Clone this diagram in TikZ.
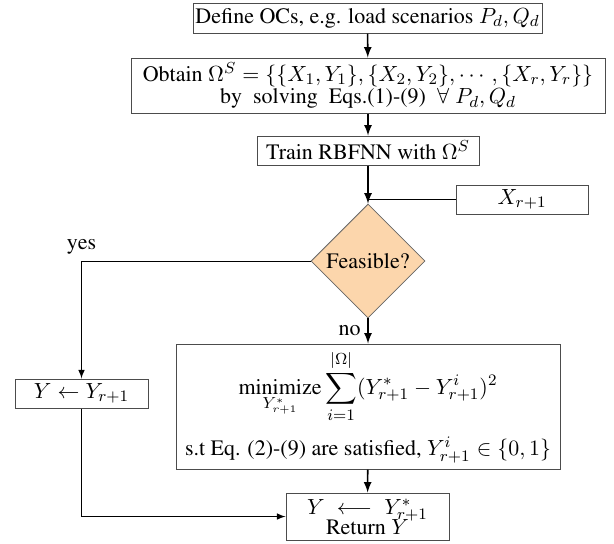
\documentclass[tikz,border=0pt]{standalone}
\usepackage[T1]{fontenc}
\usepackage{times}
\usepackage{amsmath}
\usepackage{amssymb}
\usepackage{tikz}
\usetikzlibrary{shapes,arrows}

\definecolor{feasfill}{RGB}{252,214,172}

\begin{document}
\begin{tikzpicture}
    [x=0.5pt,y=-0.5pt,>=latex,
      every node/.style={font=\fontsize{11}{13}\selectfont},
      box/.style={rectangle,draw=black!70,line width=0.5pt,inner sep=1pt,align=center},
      test/.style={diamond,draw=black!60,fill=feasfill,inner sep=0pt,aspect=1,minimum size=57pt},
      flow/.style={->,line width=0.8pt},
      side/.style={->,line width=0.5pt}]
    \useasboundingbox (0,0) rectangle (614,543);
    % main column
    \node[box,minimum width=174.5pt,minimum height=15pt] (def) at (367.5,18)
      {Define OCs, e.g. load scenarios $P_d, Q_d$};
    \node[box,minimum width=237pt,minimum height=27.5pt] (obtain) at (368,85.5)
      {Obtain $\Omega^S=\{\{X_1,Y_1\},\{X_2,Y_2\},\cdots,\{X_r,Y_r\}\}$\\[-2pt]
       by~~solving~~Eqs.(1)-(9)~~$\forall\;P_d,Q_d$};
    \node[box,minimum width=111pt,minimum height=14.5pt] (train) at (368,150.5)
      {Train RBFNN with $\Omega^S$};
    \node[box,minimum width=66pt,minimum height=14.5pt] (xin) at (522,199.5) {$X_{r+1}$};
    \node[test] (feas) at (368,261) {Feasible?};
    \node[box,minimum width=66.5pt,minimum height=14.5pt] (yupd) at (81.5,393.5)
      {$Y\leftarrow Y_{r+1}$};
    \node[box,minimum width=192pt,minimum height=62.5pt] (opt) at (368,406.5)
      {$\displaystyle\underset{Y^*_{r+1}}{\text{minimize}}\sum_{i=1}^{|\Omega|}(Y^*_{r+1}-Y^i_{r+1})^2$\\[6pt]
       s.t Eq. (2)-(9) are satisfied, $Y^i_{r+1}\in\{0,1\}$};
    \node[box,minimum width=81.5pt,minimum height=23.5pt] (ret) at (367.5,516.5)
      {$Y\;\longleftarrow\;Y^*_{r+1}$\\[-3pt] Return $Y$};
    % connectors
    \draw[flow] (def) -- (obtain);
    \draw[flow] (obtain) -- (train);
    \draw[flow] (train) -- (feas);
    \draw[line width=0.5pt] (xin.west) -- (xin.west -| feas.north);
    \draw[side] (feas.west) -| node[pos=.5,above]{yes} (yupd.north);
    \draw[flow] (feas.south) -- node[left]{no} (opt.north);
    \draw[flow] (opt) -- (ret);
    \draw[side] (yupd.south) |- (ret.west);
  \end{tikzpicture}
\end{document}
